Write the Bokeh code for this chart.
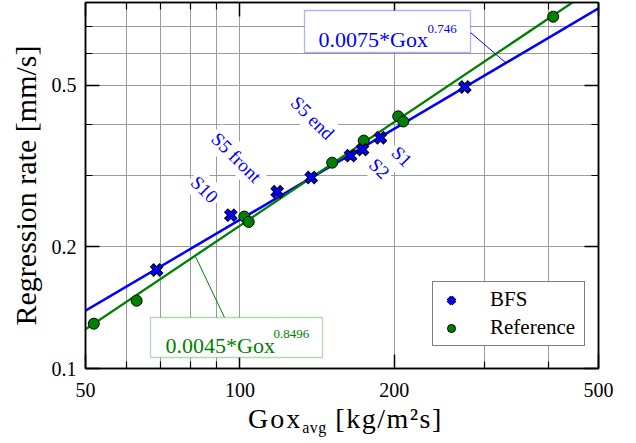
import numpy as np
from bokeh.plotting import figure
from bokeh.layouts import column
from bokeh.models import (FixedTicker, LogAxis, Label, Legend, LegendItem,
                          BoxAnnotation, BasicTickFormatter, Div)
from bokeh.embed import file_html
from bokeh.resources import INLINE

# ---------------- data ----------------
bfs_gox = [68.8, 96.0, 118.2, 137.7, 164.3, 173.4, 187.9, 274.4]
bfs_rate = [0.175, 0.239, 0.273, 0.296, 0.335, 0.347, 0.371, 0.495]

ref_gox = [51.9, 62.9, 102.0, 104.0, 151.3, 174.3, 203.5, 208.2, 408.0]
ref_rate = [0.129, 0.147, 0.237, 0.230, 0.322, 0.365, 0.419, 0.407, 0.738]

bfs_fit_a, bfs_fit_b = 0.0075, 0.746
ref_fit_a, ref_fit_b = 0.0045, 0.8496

x_major_ticks = [50, 100, 200, 500]
x_minor_ticks = [60, 70, 80, 90, 300, 400]
y_major_ticks = [0.1, 0.2, 0.5]
y_minor_ticks = [0.3, 0.4, 0.6, 0.7, 0.8]

x_lim = (50, 500)
y_lim = (0.1, 0.8)

point_labels = ["S10", "S5 front", "S5 end", "S1", "S2"]

# ---------------- layout / style ----------------
W, H = 636, 443
FIG_H = 406
FL, FR, FT, FB = 85, 598, 2, 368
FONT = "Liberation Serif"
BLUE = "#0000ff"
GREEN = "#008000"
GRID = "#9c9c9c"


def dx(px):
    return x_lim[0] * (x_lim[1] / x_lim[0]) ** ((px - FL) / (FR - FL))


def dy(py):
    return y_lim[0] * (y_lim[1] / y_lim[0]) ** ((FB - py) / (FB - FT))


p = figure(width=W, height=FIG_H, x_axis_type="log", y_axis_type="log",
           x_range=x_lim, y_range=y_lim, output_backend="svg",
           toolbar_location=None,
           min_border_left=FL, min_border_right=W - FR,
           min_border_top=FT, min_border_bottom=FIG_H - FB)
p.outline_line_color = "black"
p.outline_line_width = 1.5
p.background_fill_color = "white"
p.border_fill_color = "white"

xt = FixedTicker(ticks=x_major_ticks, minor_ticks=x_minor_ticks)
yt = FixedTicker(ticks=y_major_ticks, minor_ticks=y_minor_ticks)


def style_axis(ax, ticker, show_labels):
    ax.ticker = ticker
    ax.formatter = BasicTickFormatter(use_scientific=False)
    ax.axis_line_color = "black"
    ax.axis_line_width = 1.5
    ax.major_tick_in = 14
    ax.major_tick_out = 0
    ax.minor_tick_in = 7
    ax.minor_tick_out = 0
    ax.major_tick_line_width = 1.5
    ax.minor_tick_line_width = 1.2
    ax.major_tick_line_color = "black"
    ax.minor_tick_line_color = "black"
    if show_labels:
        ax.major_label_text_font = FONT
        ax.major_label_text_font_size = "20px"
        ax.major_label_text_color = "black"
    else:
        ax.major_label_text_font_size = "0px"
        ax.major_label_text_alpha = 0
        ax.major_label_standoff = 0
        ax.axis_label_standoff = 0


style_axis(p.xaxis[0], xt, True)
style_axis(p.yaxis[0], yt, True)
p.xaxis[0].major_label_standoff = 14
p.yaxis[0].major_label_standoff = 9

top_ax = LogAxis()
style_axis(top_ax, xt, False)
p.add_layout(top_ax, "above")
right_ax = LogAxis()
style_axis(right_ax, yt, False)
p.add_layout(right_ax, "right")

for g in (p.xgrid[0], p.ygrid[0]):
    g.grid_line_color = GRID
    g.grid_line_width = 1
    g.minor_grid_line_color = GRID
    g.minor_grid_line_width = 1

# ---------------- fit lines ----------------
fit_x = list(x_lim)
bfs_fit_y = [bfs_fit_a * x ** bfs_fit_b for x in fit_x]
ref_fit_y = [ref_fit_a * x ** ref_fit_b for x in fit_x]
p.line(fit_x, bfs_fit_y, line_color=BLUE, line_width=2.5)
p.line(fit_x, ref_fit_y, line_color=GREEN, line_width=2.3)

r_ref = p.scatter(ref_gox, ref_rate, marker="circle", size=11,
                  fill_color=GREEN, line_color="black", line_width=1)
r_bfs_o = p.scatter(bfs_gox, bfs_rate, marker="x", size=14,
                    line_color="black", line_width=5.5)
r_bfs_i = p.scatter(bfs_gox, bfs_rate, marker="x", size=12.5,
                    line_color=BLUE, line_width=3.3)

# ---------------- point labels ----------------
label_px = [(204, 189), (236, 157), (312, 117.5), (401.5, 156), (379, 168)]
for txt, (px, py) in zip(point_labels, label_px):
    p.add_layout(Label(x=dx(px), y=dy(py), text=txt, angle=-45, angle_units="deg",
                       text_align="center", text_baseline="middle",
                       text_font=FONT, text_font_size="19px", text_color=BLUE,
                       background_fill_color="white", padding=3))

# ---------------- fit annotations ----------------
p.segment(x0=[dx(470)], y0=[dy(32)], x1=[dx(505)], y1=[dy(62)],
          line_color=BLUE, line_width=1)
p.segment(x0=[dx(195)], y0=[dy(256)], x1=[dx(224)], y1=[dy(317)],
          line_color=GREEN, line_width=1)

p.add_layout(BoxAnnotation(left=dx(304), right=dx(470), top=dy(10), bottom=dy(52),
                           fill_color="white", fill_alpha=1,
                           line_color=BLUE, line_width=1.3))
p.add_layout(Label(x=dx(318), y=dy(38.5), text="%.4f*Gox" % bfs_fit_a,
                   text_font=FONT, text_font_size="22px", text_color=BLUE,
                   text_baseline="alphabetic"))
p.add_layout(Label(x=dx(427), y=dy(28.5), text="%g" % bfs_fit_b,
                   text_font=FONT, text_font_size="13px", text_color=BLUE,
                   text_baseline="alphabetic"))

p.add_layout(BoxAnnotation(left=dx(150), right=dx(322), top=dy(317), bottom=dy(357),
                           fill_color="white", fill_alpha=1,
                           line_color=GREEN, line_width=1.3))
p.add_layout(Label(x=dx(165), y=dy(345), text="%.4f*Gox" % ref_fit_a,
                   text_font=FONT, text_font_size="22px", text_color=GREEN,
                   text_baseline="alphabetic"))
p.add_layout(Label(x=dx(273), y=dy(333), text="%g" % ref_fit_b,
                   text_font=FONT, text_font_size="13px", text_color=GREEN,
                   text_baseline="alphabetic"))

# ---------------- axis titles ----------------
p.yaxis[0].axis_label = "Regression rate [mm/s]"
p.yaxis[0].axis_label_text_font = FONT
p.yaxis[0].axis_label_text_font_size = "30px"
p.yaxis[0].axis_label_text_font_style = "normal"
p.yaxis[0].axis_label_text_color = "black"
p.yaxis[0].axis_label_standoff = 7

x_title = Div(
    text=('<div style="font-family:\'Liberation Serif\';font-size:28px;line-height:26px;'
          'color:black;white-space:nowrap;padding-left:248px;padding-top:0px;">'
          '<span style="letter-spacing:2px;">Gox</span>'
          '<span style="font-size:16px;position:relative;top:5px;letter-spacing:0.5px;">avg</span>'
          '<span style="letter-spacing:1.5px;">&nbsp;[kg/m²s]</span></div>'),
    width=W, height=H - FIG_H, margin=0)

# ---------------- legend ----------------
legend = Legend(items=[LegendItem(label="BFS", renderers=[r_bfs_o, r_bfs_i]),
                       LegendItem(label="Reference", renderers=[r_ref])],
                location=(347, 22), orientation="vertical")
legend.border_line_color = "black"
legend.border_line_width = 1.2
legend.background_fill_color = "white"
legend.background_fill_alpha = 1
legend.label_text_font = FONT
legend.label_text_font_size = "21px"
legend.label_text_color = "black"
legend.padding = 5
legend.spacing = 3
legend.glyph_width = 26
legend.glyph_height = 20
legend.label_height = 20
legend.label_standoff = 26
legend.label_width = 89
legend.margin = 0
p.add_layout(legend)

layout = column(p, x_title, spacing=0, margin=0)
open("out.html", "w").write(file_html(layout, INLINE))
